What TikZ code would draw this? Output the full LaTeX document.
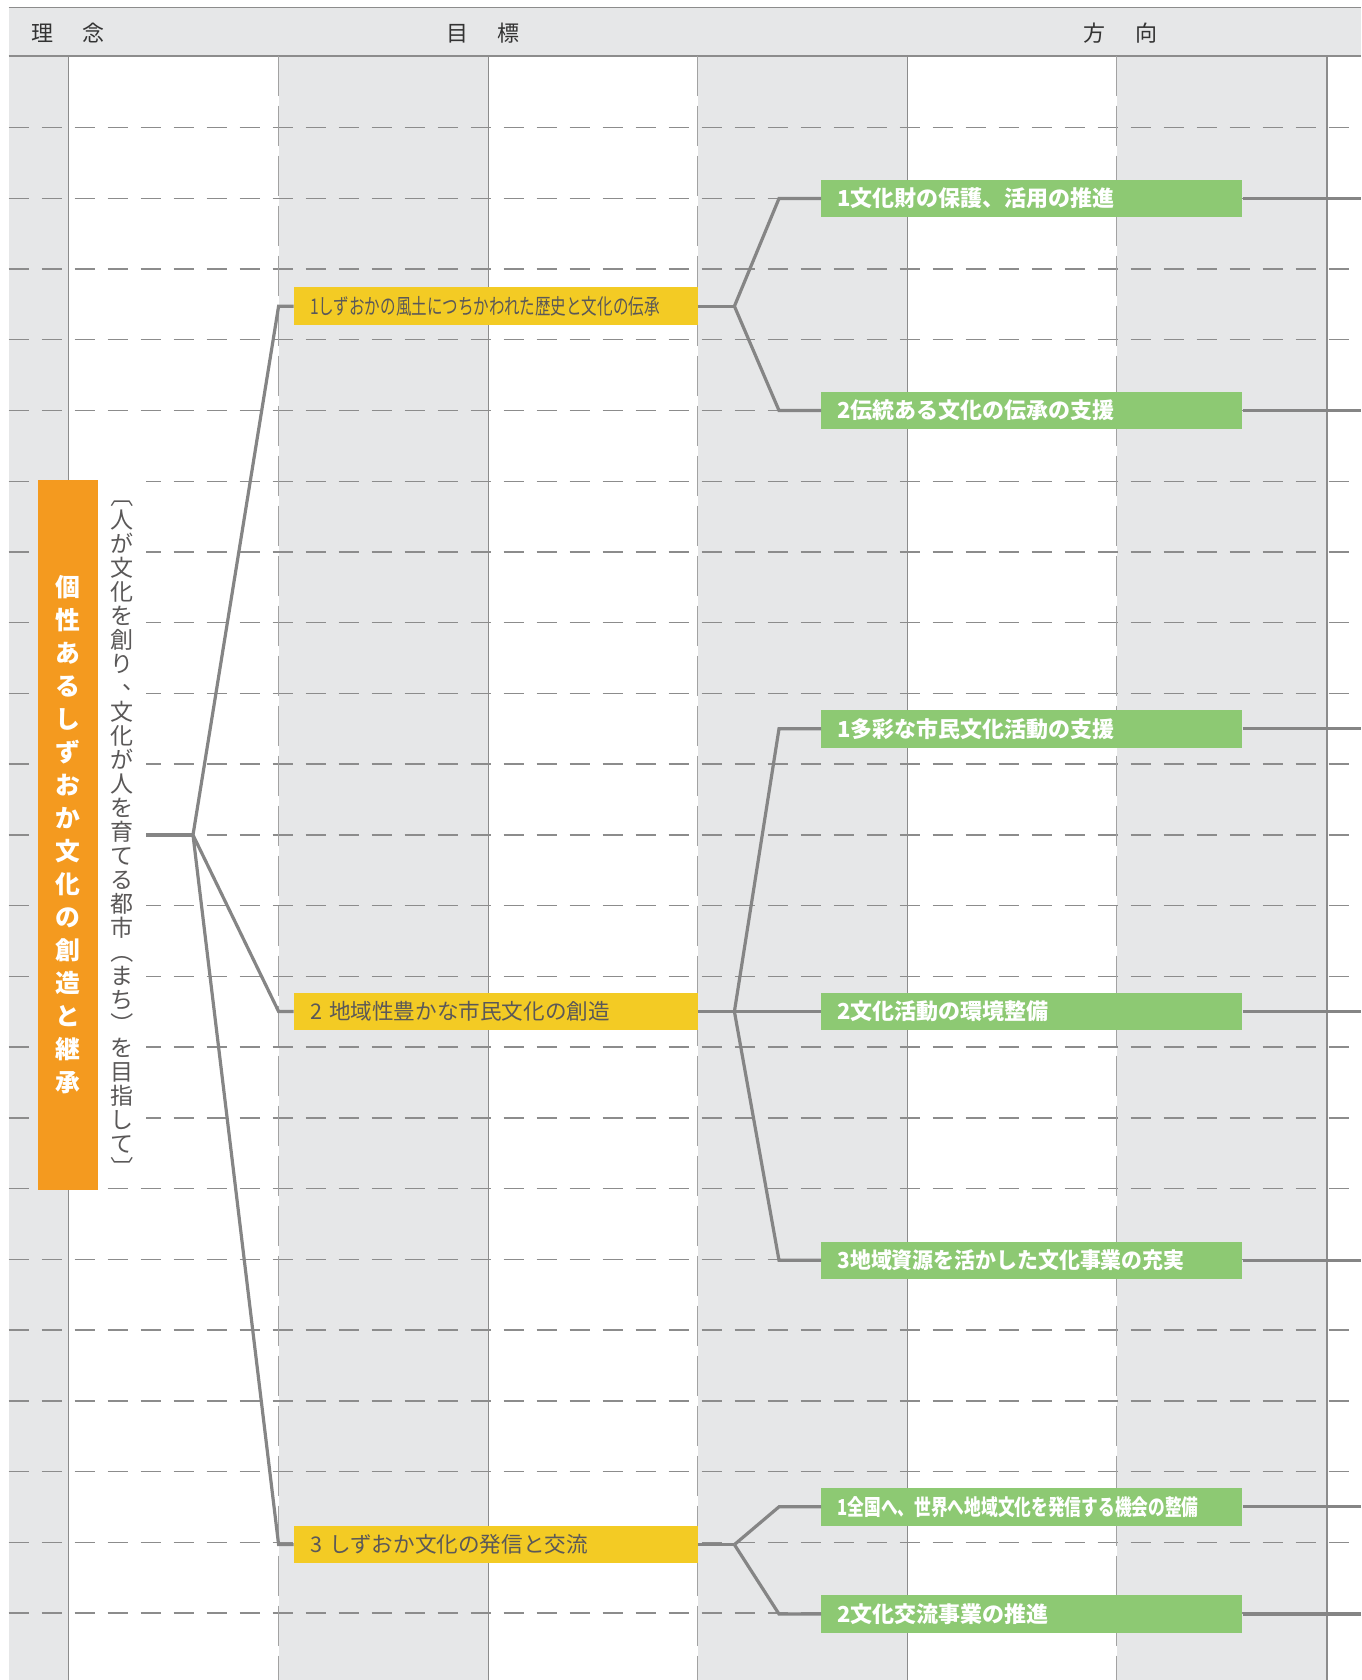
\documentclass[tikz,border=0pt]{standalone}
\usepackage{fontspec}
\usepackage{graphicx}
\usepackage{tikz}
\usetikzlibrary{calc}
\newfontfamily\jp{Noto Sans CJK JP}
\definecolor{colgray}{HTML}{E6E7E8}
\definecolor{rulegray}{HTML}{8C8C8C}
\definecolor{dashgray}{HTML}{A2A2A2}
\definecolor{linkgray}{HTML}{858585}
\definecolor{rinenorange}{HTML}{F49A1F}
\definecolor{goalyellow}{HTML}{F3CB24}
\definecolor{dirgreen}{HTML}{8DC973}
\definecolor{textgray}{HTML}{5A5858}
\newcommand{\vbr}[1]{\rotatebox[origin=c]{-90}{#1}}
\newcommand{\vcomma}{\makebox[1em][l]{\smash{\raisebox{0.3em}{\hspace{0.55em}、}}}}
\tikzset{
  colfill/.style={fill=colgray},
  headrule/.style={rulegray,line width=0.9pt},
  vrule/.style={rulegray,line width=0.7pt},
  vdash/.style={dashgray,line width=0.7pt,dash pattern=on 20pt off 5pt},
  hdash/.style={rulegray,line width=0.7pt,dash pattern=on 10pt off 6.5pt},
  headtext/.style={font=\jp\fontsize{11}{13}\selectfont,text=black!80},
  link/.style={linkgray,line width=1.6pt},
  goalbox/.style={fill=goalyellow,anchor=west,text width=186pt,inner xsep=8pt,inner ysep=0pt,
    minimum height=18.75pt,align=left,text=textgray,font=\jp\fontsize{10.8}{13}\selectfont},
  dirbox/.style={fill=dirgreen,anchor=west,text width=194.5pt,inner xsep=8pt,inner ysep=0pt,
    minimum height=18.75pt,align=left,text=white,font=\jp\bfseries\fontsize{11}{13}\selectfont}
}
\begin{document}
\begin{tikzpicture}[x=0.5pt,y=-0.5pt]
  \useasboundingbox (0,0) rectangle (1361,1680);
  % header band and shaded columns
  \fill[colfill] (8.6,7.5) rectangle (1361,55.7);
  \fill[colfill] (8.6,55.7) rectangle (68.6,1680);
  \foreach \x in {278.6,697.7,1116.7}
    \fill[colfill] (\x,55.7) rectangle ++(210,1624.3);
  \draw[headrule] (8.6,7.5) -- (1361,7.5) (8.6,55.7) -- (1361,55.7);
  \foreach \k in {0,...,21}
    \draw[hdash] (8.6,{127.5+70.74*\k}) -- (1361,{127.5+70.74*\k});
  \foreach \x in {68.6,488.7,907.7,1326.8}
    \draw[vrule] (\x,55.7) -- (\x,1680);
  \foreach \x in {278.6,697.7,1116.7}
    \draw[vdash] (\x,55.7) -- (\x,1680);
  \node[headtext] (hrinen) at (68,33) {理\hspace{1.35em}念};
  \node[headtext] (hgoal) at (483,33) {目\hspace{1.35em}標};
  \node[headtext] (hdir) at (1120.5,33) {方\hspace{1.35em}向};

  % idea and motto
  \node[fill=rinenorange,minimum width=30pt,minimum height=355pt,inner sep=0pt,align=center,
    text=white,font=\jp\bfseries\fontsize{12.4}{16.5}\selectfont] (rinen) at (67.5,835)
    {個\\性\\あ\\る\\し\\ず\\お\\か\\文\\化\\の\\創\\造\\と\\継\\承};
  \node[fill=white,minimum width=24.25pt,minimum height=355pt,inner sep=0pt,align=center,
    text=textgray,font=\jp\fontsize{11.5}{12}\selectfont] (motto) at (121.8,832)
    {\vbr{〔}\\人\\が\\文\\化\\を\\創\\り\\\vcomma\\文\\化\\が\\人\\を\\育\\て\\る\\都\\市\\\vbr{（}\\ま\\ち\\\vbr{）}\\を\\目\\指\\し\\て\\\vbr{〕}};

  % goals
  \node[goalbox] (g1) at (293.6,306.2) {\scalebox{0.72}[1]{1しずおかの風土につちかわれた歴史と文化の伝承}};
  \node[goalbox] (g2) at (293.6,1011.5) {2 地域性豊かな市民文化の創造};
  \node[goalbox] (g3) at (293.6,1544.6) {3 しずおか文化の発信と交流};

  % directions
  \node[dirbox] (d11) at (821,198.5) {1文化財の保護、活用の推進};
  \node[dirbox] (d12) at (821,410.5) {2伝統ある文化の伝承の支援};
  \node[dirbox] (d21) at (821,728.8) {1多彩な市民文化活動の支援};
  \node[dirbox] (d22) at (821,1011.5) {2文化活動の環境整備};
  \node[dirbox] (d23) at (821,1260.3) {\scalebox{0.95}[1]{3地域資源を活かした文化事業の充実}};
  \node[dirbox] (d31) at (821,1506.8) {\scalebox{0.76}[1]{1全国へ、世界へ地域文化を発信する機会の整備}};
  \node[dirbox] (d32) at (821,1614) {2文化交流事業の推進};

  % tree
  \coordinate (j0) at (193,835);
  \coordinate (b0) at (278.6,0);
  \coordinate (b1) at (779,0);
  \coordinate (edge) at (1361,0);
  \draw[link] (motto.east |- j0) -- (j0);
  \foreach \g in {g1,g2,g3}
    \draw[link] (j0) -- (\g.west -| b0) -- (\g.west);
  \draw[link] (g1.east) -- ++(36,0) coordinate (j1);
  \draw[link] (g2.east) -- ++(36,0) coordinate (j2);
  \draw[link] (g3.east) -- ++(36,0) coordinate (j3);
  \foreach \d in {d11,d12}
    \draw[link] (j1) -- (\d.west -| b1) -- (\d.west);
  \foreach \d in {d21,d22,d23}
    \draw[link] (j2) -- (\d.west -| b1) -- (\d.west);
  \foreach \d in {d31,d32}
    \draw[link] (j3) -- (\d.west -| b1) -- (\d.west);
  \foreach \d in {d11,d12,d21,d22,d23,d31,d32}
    \draw[link] (\d.east) -- (\d.east -| edge);
\end{tikzpicture}
\end{document}
